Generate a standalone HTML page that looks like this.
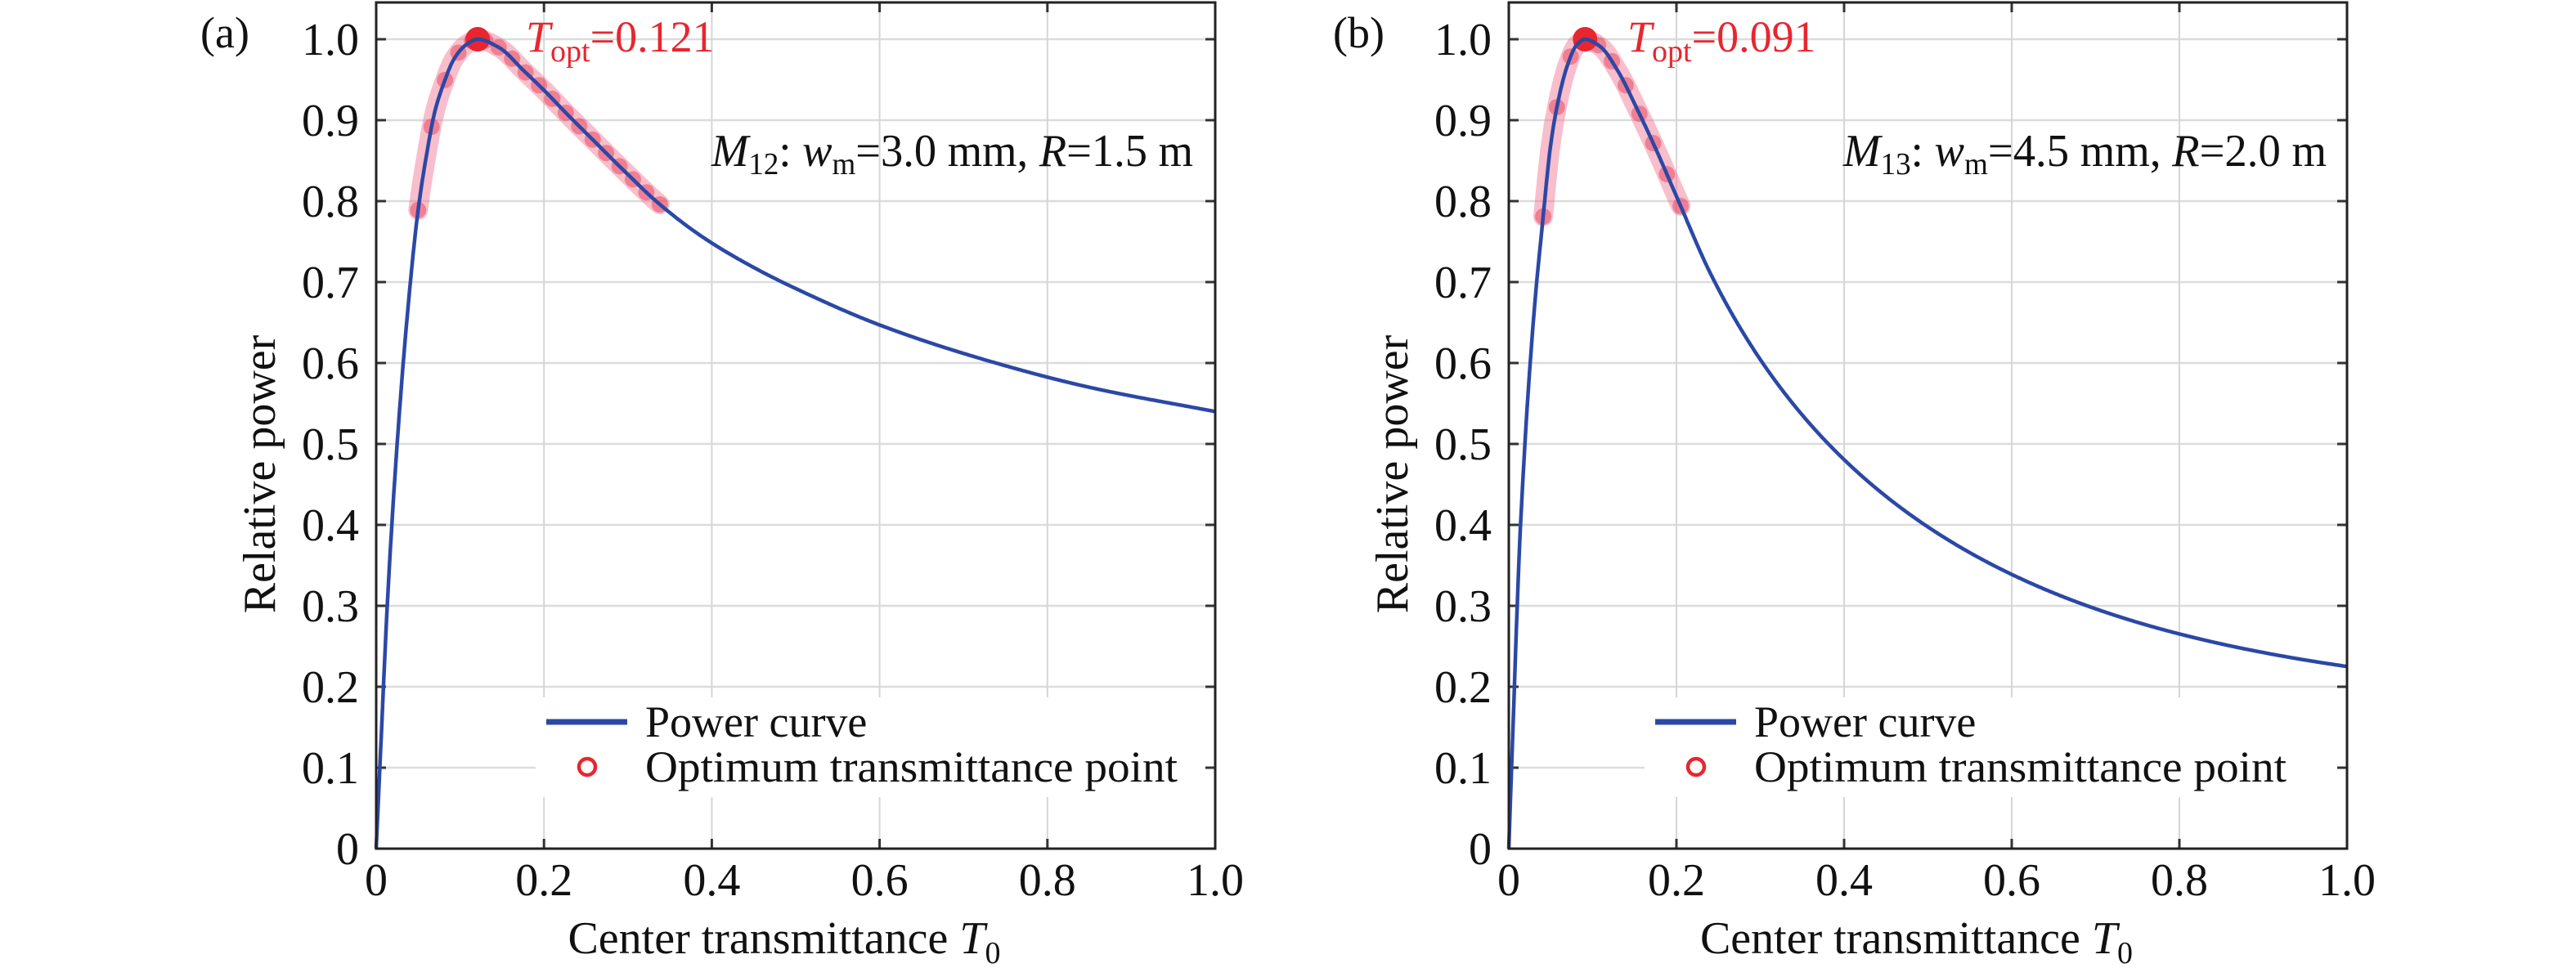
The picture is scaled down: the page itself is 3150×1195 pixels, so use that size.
<!DOCTYPE html>
<html><head><meta charset="utf-8"><style>
html,body{margin:0;padding:0;background:#fff;}
svg{display:block;font-family:"Liberation Serif",serif;}
</style></head><body>
<svg id="s" width="3150" height="1195" viewBox="0 0 3150 1195" xmlns="http://www.w3.org/2000/svg">
<rect width="3150" height="1195" fill="#fff"/>
<g id="g"></g>
</svg>
<script>
const NS="http://www.w3.org/2000/svg";
const G=document.getElementById('g');
function el(t,a,txt){const e=document.createElementNS(NS,t);for(const k in a)e.setAttribute(k,a[k]);if(txt!==undefined)e.textContent=txt;G.appendChild(e);return e;}
function mono(xs,ys){const n=xs.length,d=[],m=new Array(n);
for(let i=0;i<n-1;i++)d.push((ys[i+1]-ys[i])/(xs[i+1]-xs[i]));
m[0]=d[0];m[n-1]=d[n-2];
for(let i=1;i<n-1;i++){if(d[i-1]*d[i]<=0)m[i]=0;else{const w1=2*(xs[i+1]-xs[i])+(xs[i]-xs[i-1]),w2=(xs[i+1]-xs[i])+2*(xs[i]-xs[i-1]);m[i]=(w1+w2)/(w1/d[i-1]+w2/d[i]);}}
return function(x){let i=0;while(i<n-2&&x>xs[i+1])i++;const h=xs[i+1]-xs[i],t=(x-xs[i])/h;
const h00=2*t*t*t-3*t*t+1,h10=t*t*t-2*t*t+t,h01=-2*t*t*t+3*t*t,h11=t*t*t-t*t;
return h00*ys[i]+h10*h*m[i]+h01*ys[i+1]+h11*h*m[i+1];};}
const A=[[0,0],[0.005,0.115],[0.014,0.316],[0.025,0.50],[0.036,0.646],[0.05,0.789],[0.06,0.857],[0.07,0.911],[0.08,0.944],[0.093,0.976],[0.107,0.993],[0.121,1.0],[0.146,0.990],[0.176,0.961],[0.2,0.937],[0.228,0.907],[0.26,0.874],[0.293,0.840],[0.338,0.796],[0.39,0.755],[0.45,0.718],[0.5,0.692],[0.6,0.647],[0.722,0.605],[0.85,0.570],[1.0,0.540]];
const B=[[0,0],[0.004,0.12],[0.0137,0.393],[0.029,0.648],[0.041,0.781],[0.05,0.870],[0.06,0.929],[0.07,0.968],[0.081,0.993],[0.091,1.0],[0.109,0.991],[0.13,0.961],[0.153,0.914],[0.176,0.863],[0.2,0.806]];
for(let t=0.24;t<=1.0001;t+=0.04){B.push([t,0.2497/(t+0.1098)-0.013*Math.sin(Math.PI*(t-0.2)/0.8)]);}
function panel(X0,X1,data,lab,topt,tstr,mSub,mRest,mx0,mx1,leg,mk,tx){
 const Y0=1038,Y1=48,YT=3;const sx=t=>X0+t*(X1-X0),sy=p=>Y0-p*(Y0-Y1);
 const f=mono(data.map(d=>d[0]),data.map(d=>d[1]));
 for(let i=1;i<=10;i++){el('line',{x1:X0,x2:X1,y1:sy(i/10),y2:sy(i/10),stroke:'#dcdcdc','stroke-width':2.5});}
 for(let i=1;i<5;i++){el('line',{x1:sx(i/5),x2:sx(i/5),y1:YT,y2:Y0,stroke:'#d6d6d6','stroke-width':2});}
 el('rect',{x:leg-13,y:853,width:X1-leg+13,height:122,fill:'#fff'});
 for(let i=0;i<=10;i++){const y=sy(i/10);el('line',{x1:X0,x2:X0+12,y1:y,y2:y,stroke:'#333','stroke-width':3});el('line',{x1:X1-12,x2:X1,y1:y,y2:y,stroke:'#333','stroke-width':3});
  el('text',{x:X0-21,y:y+19,'font-size':56,'text-anchor':'end',fill:'#111'},i==0?'0':(i==10?'1.0':'0.'+i));}
 for(let i=0;i<=5;i++){const x=sx(i/5);el('line',{x1:x,x2:x,y1:Y0,y2:Y0-12,stroke:'#333','stroke-width':3});el('line',{x1:x,x2:x,y1:YT,y2:YT+12,stroke:'#333','stroke-width':3});
  el('text',{x:x,y:1095,'font-size':56,'text-anchor':'middle',fill:'#111'},i==0?'0':(i==5?'1.0':'0.'+(2*i)));}
 let pts=[];for(let t=mk[0];t<=mk[1]+1e-9;t+=0.002)pts.push(sx(t).toFixed(1)+','+sy(f(t)).toFixed(1));
 el('polyline',{points:pts.join(' '),fill:'none',stroke:'rgba(240,110,140,0.45)','stroke-width':24,'stroke-linecap':'round','stroke-linejoin':'round'});
 const step=(mk[1]-mk[0])/ (mk[2]);
 for(let t=mk[0];t<=mk[1]+1e-9;t+=step){el('circle',{cx:sx(t),cy:sy(f(t)),r:10,fill:'rgba(230,50,80,0.45)'});}
 el('circle',{cx:sx(topt),cy:sy(1),r:15,fill:'#e8262f'});
 pts=[];for(let i=0;i<=1000;i++){const t=i/1000;pts.push(sx(t).toFixed(1)+','+sy(Math.max(0,f(t))).toFixed(1));}
 el('polyline',{points:pts.join(' '),fill:'none',stroke:'#2b48a6','stroke-width':4.5,'stroke-linejoin':'round'});
 el('rect',{x:X0,y:YT,width:X1-X0,height:Y0-YT,fill:'none',stroke:'#222','stroke-width':3});
 el('line',{x1:leg,x2:leg+99,y1:883,y2:883,stroke:'#2b48a6','stroke-width':7});
 el('circle',{cx:leg+50,cy:938,r:10,fill:'none',stroke:'#e8262f','stroke-width':4.5});
 el('text',{x:leg+121,y:901,'font-size':54,fill:'#111'},'Power curve');
 el('text',{x:leg+121,y:956,'font-size':54,fill:'#111',textLength:651,lengthAdjust:'spacingAndGlyphs'},'Optimum transmittance point');
 const cx=(X0+X1)/2;
 const t1=el('text',{x:cx-14,y:1166,'font-size':56,'text-anchor':'middle',fill:'#111'},'Center transmittance ');
 const tt=document.createElementNS(NS,'tspan');tt.setAttribute('font-style','italic');tt.textContent='T';t1.appendChild(tt);
 const ts=document.createElementNS(NS,'tspan');ts.setAttribute('font-size','38');ts.setAttribute('dy','12');ts.textContent='0';t1.appendChild(ts);
 el('text',{x:0,y:0,'font-size':56,'text-anchor':'middle',fill:'#111',transform:`translate(${X0-124},580) rotate(-90)`},'Relative power');
 el('text',{x:X0-215,y:58,'font-size':54,fill:'#111'},lab);
 const tp=el('text',{x:tx,y:63,'font-size':54,fill:'#e8262f'});
 tp.innerHTML='<tspan font-style="italic">T</tspan><tspan font-size="38" dy="12">opt</tspan><tspan dy="-12">='+tstr+'</tspan>';
 const mt=el('text',{x:mx0,y:203,'font-size':56,fill:'#111',textLength:mx1-mx0,lengthAdjust:'spacingAndGlyphs'});
 mt.innerHTML='<tspan font-style="italic">M</tspan><tspan font-size="38" dy="10">'+mSub+'</tspan><tspan dy="-10">: </tspan><tspan font-style="italic">w</tspan><tspan font-size="38" dy="10">m</tspan><tspan dy="-10">='+mRest[0]+' mm, </tspan><tspan font-style="italic">R</tspan><tspan>='+mRest[1]+' m</tspan>';
}
panel(460,1486,A,'(a)',0.121,'0.121','12',['3.0','1.5'],870,1459,668,[0.05,0.338,18],643);
panel(1845,2870,B,'(b)',0.091,'0.091','13',['4.5','2.0'],2254,2845,2024,[0.041,0.205,10],1990);
</script>
</body></html>
